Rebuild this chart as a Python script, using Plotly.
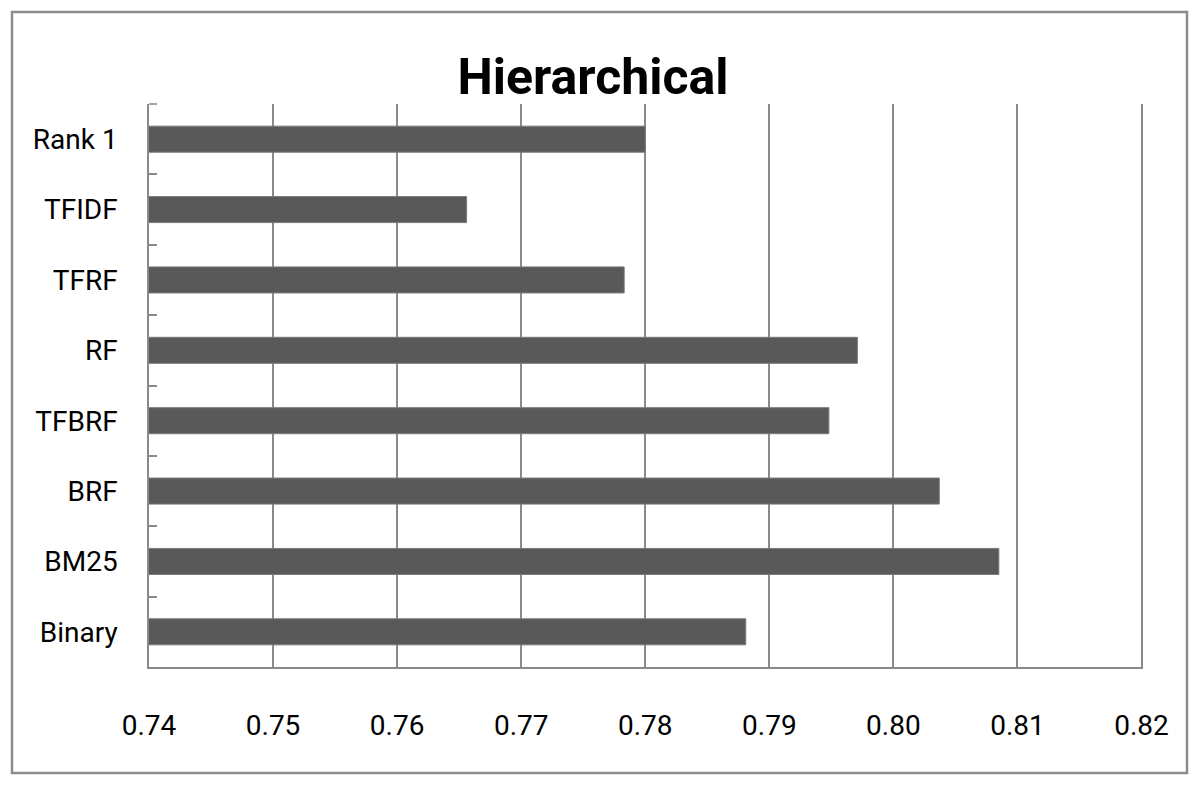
import plotly.graph_objects as go

categories = ["Rank 1", "TFIDF", "TFRF", "RF", "TFBRF", "BRF", "BM25", "Binary"]
values = [0.7800, 0.7656, 0.7783, 0.7971, 0.7948, 0.8037, 0.8085, 0.7881]
x_ticks = [0.74, 0.75, 0.76, 0.77, 0.78, 0.79, 0.80, 0.81, 0.82]
x_tick_labels = ["0.74", "0.75", "0.76", "0.77", "0.78", "0.79", "0.80", "0.81", "0.82"]
title_text = "Hierarchical"

FONT = "Roboto, Liberation Sans, sans-serif"
GRID = "#8a8a8a"

fig = go.Figure()
fig.add_trace(go.Bar(
    x=values,
    y=categories,
    orientation="h",
    base=0,
    marker=dict(color="#595959", line=dict(color="#7a7a7a", width=1)),
    showlegend=False,
))

fig.update_layout(
    width=1200,
    height=785,
    paper_bgcolor="white",
    plot_bgcolor="white",
    margin=dict(l=149, r=57, t=104, b=118, autoexpand=False),
    bargap=0.63,
    title=dict(
        text="<b>" + title_text + "</b>",
        font=dict(family=FONT, size=50, color="black"),
        x=593 / 1200, xref="container", xanchor="center",
        y=1 - 76 / 785, yref="container", yanchor="middle",
    ),
    xaxis=dict(
        range=[0.74, 0.82012],
        tickvals=x_ticks,
        ticktext=x_tick_labels,
        showgrid=True,
        gridcolor=GRID,
        gridwidth=1.5,
        showline=True,
        linecolor=GRID,
        linewidth=1.5,
        zeroline=False,
        ticks="",
        ticklabelstandoff=33,
        tickfont=dict(family=FONT, size=28, color="black"),
        mirror=False,
    ),
    yaxis=dict(
        type="category",
        categoryorder="array",
        categoryarray=categories,
        autorange="reversed",
        showgrid=False,
        showline=True,
        linecolor=GRID,
        linewidth=1.5,
        ticks="inside",
        tickson="boundaries",
        ticklen=8,
        tickcolor=GRID,
        tickwidth=1.5,
        ticklabelstandoff=24,
        tickfont=dict(family=FONT, size=28, color="black"),
        zeroline=False,
    ),
    shapes=[
        dict(
            type="rect", xref="paper", yref="paper",
            x0=(12 - 149) / 994, x1=(1187 - 149) / 994,
            y0=(667 - 773) / 563, y1=(667 - 12) / 563,
            line=dict(color="#8c8c8c", width=2.5),
            fillcolor="rgba(0,0,0,0)",
            layer="below",
        ),
        dict(
            type="line", xref="paper", yref="paper",
            x0=0, x1=8 / 994, y0=1, y1=1,
            line=dict(color=GRID, width=1.5),
        ),
    ],
)

fig.write_html(
    "out.html",
    config={"displayModeBar": False},
    post_script="document.body.style.margin='0';",
)
